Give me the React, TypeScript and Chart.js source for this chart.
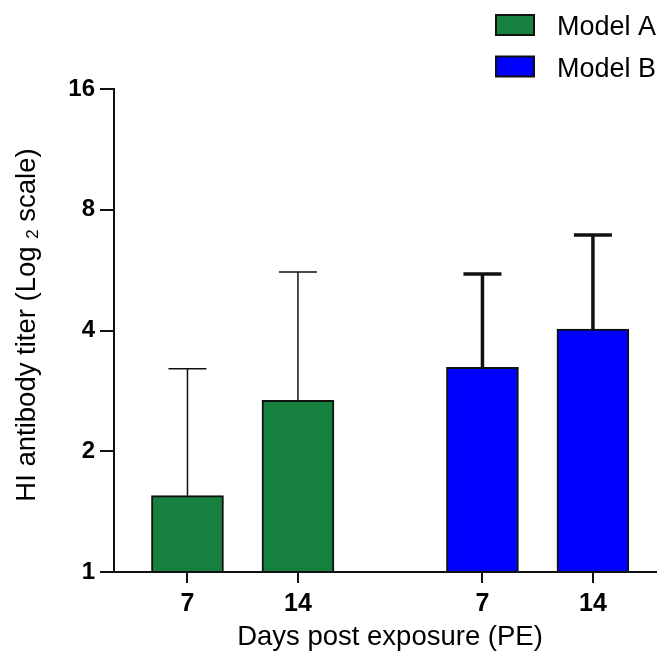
import React, { useEffect, useRef } from 'react';
import { Chart, registerables } from 'chart.js';

Chart.register(...registerables);

// ---- data ----
const seriesNames = ['Model A', 'Model B'];
const dayLabels = ['7', '14'];
// x positions of the bars on the linear day axis (group A, then group B after a gap)
const positionsA = [1, 2];
const positionsB = [3.67, 4.67];
const meanA = [1.55, 2.68];
const meanB = [3.24, 4.03];
const upperA = [3.21, 5.6];
const upperB = [5.53, 6.92];
const yTickValues = [1, 2, 4, 8, 16];
const yMin = 1;
const yMax = 16;
const xMin = 0.335;
const xMax = 5.25;

const FONT = '"Liberation Sans", Arial, Helvetica, sans-serif';
const seriesColors = ['#16803f', '#0000ff'];
const errWidths = [1.5, 3.5];

const errorBarPlugin = {
  id: 'errorBars',
  afterDatasetsDraw(chart: any) {
    const { ctx } = chart;
    const yScale = chart.scales.y;
    const uppers = [upperA, upperB];
    chart.data.datasets.forEach((_ds: any, di: number) => {
      const meta = chart.getDatasetMeta(di);
      meta.data.forEach((el: any, j: number) => {
        const x = el.x;
        const y0 = el.y;
        const y1 = yScale.getPixelForValue(uppers[di][j]);
        ctx.save();
        ctx.strokeStyle = '#111';
        ctx.lineWidth = errWidths[di];
        ctx.beginPath();
        ctx.moveTo(x, y0);
        ctx.lineTo(x, y1);
        ctx.moveTo(x - 19, y1);
        ctx.lineTo(x + 19, y1);
        ctx.stroke();
        ctx.restore();
      });
    });
  },
};

const titlesLegendPlugin = {
  id: 'titlesLegend',
  afterDraw(chart: any) {
    const { ctx } = chart;
    ctx.save();
    ctx.fillStyle = '#000';
    // x title
    ctx.font = `27.5px ${FONT}`;
    ctx.textAlign = 'center';
    ctx.textBaseline = 'alphabetic';
    ctx.fillText('Days post exposure (PE)', 390, 645);

    // y title with subscript
    const p1 = 'HI antibody titer (Log ';
    const p2 = '2';
    const p3 = ' scale)';
    ctx.font = `27.5px ${FONT}`;
    const w1 = ctx.measureText(p1).width;
    const w3 = ctx.measureText(p3).width;
    ctx.font = `17px ${FONT}`;
    const w2 = ctx.measureText(p2).width;
    const total = w1 + w2 + w3;
    ctx.translate(35, 325);
    ctx.rotate(-Math.PI / 2);
    ctx.textAlign = 'left';
    let x = -total / 2;
    ctx.font = `27.5px ${FONT}`;
    ctx.fillText(p1, x, 0);
    x += w1;
    ctx.font = `17px ${FONT}`;
    ctx.fillText(p2, x, 3);
    x += w2;
    ctx.font = `27.5px ${FONT}`;
    ctx.fillText(p3, x, 0);
    ctx.restore();

    // legend
    ctx.save();
    chart.data.datasets.forEach((ds: any, i: number) => {
      const bx = 496;
      const by = 15 + i * 41.5;
      ctx.fillStyle = ds.backgroundColor;
      ctx.fillRect(bx, by, 38, 20);
      ctx.strokeStyle = '#111';
      ctx.lineWidth = 2;
      ctx.strokeRect(bx, by, 38, 20);
      ctx.fillStyle = '#000';
      ctx.font = `27px ${FONT}`;
      ctx.textAlign = 'left';
      ctx.textBaseline = 'alphabetic';
      ctx.fillText(ds.label, 557, by + 20);
    });
    ctx.restore();
  },
};

export default function App() {
  const ref = useRef<HTMLCanvasElement | null>(null);
  useEffect(() => {
    if (!ref.current) return;
    const allPositions = [...positionsA, ...positionsB];
    const chart = new Chart(ref.current, {
      type: 'bar',
      data: {
        datasets: [
          {
            label: seriesNames[0],
            data: positionsA.map((x, i) => ({ x, y: meanA[i] })),
            backgroundColor: seriesColors[0],
            borderColor: '#111',
            borderWidth: 2,
            barThickness: 72,
            grouped: false,
            base: 1,
          },
          {
            label: seriesNames[1],
            data: positionsB.map((x, i) => ({ x, y: meanB[i] })),
            backgroundColor: seriesColors[1],
            borderColor: '#111',
            borderWidth: 2,
            barThickness: 72,
            grouped: false,
            base: 1,
          },
        ] as any,
      },
      options: {
        animation: false,
        responsive: false,
        devicePixelRatio: 1,
        layout: { padding: { top: 89, left: 0, right: 0, bottom: 0 } },
        plugins: { legend: { display: false }, tooltip: { enabled: false } },
        scales: {
          x: {
            type: 'linear',
            min: xMin,
            max: xMax,
            offset: false,
            afterBuildTicks: (scale: any) => {
              scale.ticks = allPositions.map((v) => ({ value: v }));
            },
            afterFit: (scale: any) => {
              scale.height = 79;
            },
            ticks: {
              autoSkip: false,
              maxRotation: 0,
              padding: 6,
              color: '#000',
              font: { family: FONT, size: 25, weight: 'bold' },
              callback: (_v: any, i: number) => dayLabels[i % 2],
            },
            grid: {
              offset: false,
              drawOnChartArea: false,
              drawTicks: true,
              tickLength: 11,
              color: '#111',
              lineWidth: 2,
            },
            border: { color: '#111', width: 2 },
          },
          y: {
            type: 'logarithmic',
            min: yMin,
            max: yMax,
            afterBuildTicks: (scale: any) => {
              scale.ticks = yTickValues.map((v) => ({ value: v }));
            },
            afterFit: (scale: any) => {
              scale.width = 114;
            },
            ticks: {
              autoSkip: false,
              padding: 5,
              color: '#000',
              font: { family: FONT, size: 24, weight: 'bold' },
              callback: (v: any) => String(v),
            },
            grid: {
              drawOnChartArea: false,
              drawTicks: true,
              tickLength: 14,
              color: '#111',
              lineWidth: 2,
            },
            border: { color: '#111', width: 2 },
          },
        } as any,
      },
      plugins: [errorBarPlugin, titlesLegendPlugin],
    });
    return () => chart.destroy();
  }, []);
  return (
    <div style={{ position: 'fixed', left: 0, top: 0, width: 657, height: 651, background: '#fff' }}>
      <canvas ref={ref} width={657} height={651} style={{ width: 657, height: 651 }} />
    </div>
  );
}
